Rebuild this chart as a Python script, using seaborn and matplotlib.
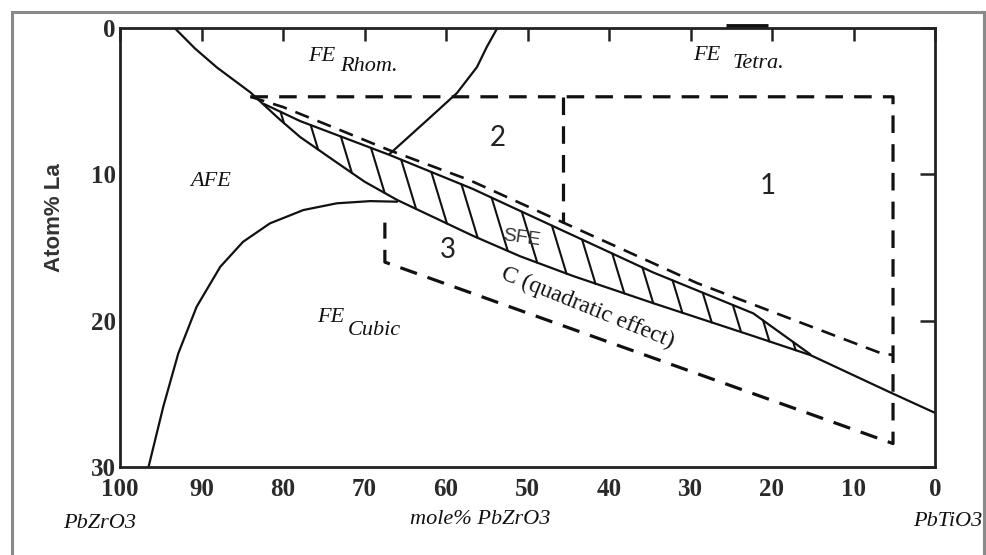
import numpy as np
import matplotlib
matplotlib.use("Agg")
import matplotlib.pyplot as plt
import seaborn as sns

# ---------------- data ----------------
# AFE / FE(Rhom) boundary continuing as lower edge of SFE band to PbTiO3
afe_x = [93.3, 90.8, 88.1, 84.0, 80.5, 77.9, 73.9, 70.0, 66.0, 56.7, 50.9, 44.4, 34.6, 22.3, 15.3, 5.5, 0.0]
afe_y = [0.0, 1.4, 2.7, 4.4, 6.2, 7.45, 9.0, 10.5, 11.75, 14.2, 15.6, 16.95, 18.8, 21.05, 22.35, 24.9, 26.3]
# upper edge of SFE (hatched) band
sfe_top_x = [82.3, 77.9, 66.9, 56.7, 50.9, 34.6, 22.3, 15.3]
sfe_top_y = [5.2, 6.36, 8.68, 11.0, 12.5, 16.7, 19.5, 22.3]
# FE Rhom / FE Tetra boundary
mpb_x = [53.7, 55.0, 56.2, 58.65, 62.3, 66.9]
mpb_y = [0.0, 1.3, 2.67, 4.44, 6.29, 8.6]
# AFE / FE Cubic boundary
cubic_x = [96.5, 94.7, 92.85, 90.6, 87.7, 84.9, 81.6, 77.5, 73.4, 69.3, 66.0]
cubic_y = [30.0, 25.9, 22.24, 19.05, 16.32, 14.61, 13.35, 12.44, 11.98, 11.83, 11.87]
# dashed region outlines
outer_x = [84.0, 5.15, 5.15, 67.5, 67.5]
outer_y = [4.7, 4.7, 28.4, 16.0, 13.3]
upper_dash_x = [84.0, 80.0, 73.9, 67.0, 57.1, 45.6, 29.2, 6.75, 5.15]
upper_dash_y = [4.7, 5.4, 6.77, 8.34, 10.4, 13.3, 17.43, 22.2, 22.35]
divider_x = [45.6, 45.6]
divider_y = [4.7, 13.3]
top_mark_x = [25.6, 20.5]
top_mark_y = [-0.12, -0.12]

x_ticks = [100, 90, 80, 70, 60, 50, 40, 30, 20, 10, 0]
y_ticks = [0, 10, 20, 30]

# ---------------- styling ----------------
sns.set_theme(style="white")
plt.rcParams["font.family"] = ["Liberation Serif", "DejaVu Serif"]

W, H = 986, 555
fig = plt.figure(figsize=(W / 100, H / 100), dpi=100)
ax = fig.add_axes([120 / W, 1 - 467 / H, (935 - 120) / W, (467 - 28) / H])
ax.set_xlim(100, 0)
ax.set_ylim(30, 0)

k = "#111111"
solid_lw = 1.6
dash_ls = (0, (5.5, 3.5))

def line(xs, ys, **kw):
    sns.lineplot(x=xs, y=ys, sort=False, estimator=None, ax=ax, color=k, **kw)

line(afe_x, afe_y, lw=solid_lw)
line(sfe_top_x, sfe_top_y, lw=solid_lw)
line(mpb_x, mpb_y, lw=solid_lw)
line(cubic_x, cubic_y, lw=solid_lw)
line(outer_x, outer_y, lw=2.3, linestyle=dash_ls)
line(upper_dash_x, upper_dash_y, lw=1.9, linestyle=dash_ls)
line(divider_x, divider_y, lw=2.3, linestyle=dash_ls)
ax.plot(top_mark_x, top_mark_y, color=k, lw=3.5, clip_on=False, solid_capstyle="butt")

# hatching of SFE band: steep "\" strokes between upper and lower edges
tx, ty = np.array(sfe_top_x)[::-1], np.array(sfe_top_y)[::-1]
lx, ly = np.array(afe_x)[::-1], np.array(afe_y)[::-1]
slope = 3.3 * 8.15 / 14.63
for x0 in np.arange(80.3, 16.0, -3.7):
    y0 = np.interp(x0, tx, ty)
    xs = np.linspace(x0, x0 - 10, 2000)
    yl = y0 + slope * (x0 - xs)
    hit = np.argmax(yl >= np.interp(xs, lx, ly))
    ax.plot([x0, xs[hit]], [y0, yl[hit]], color=k, lw=1.5, solid_capstyle="round")

# ---------------- axes ----------------
ax.set_xticks(x_ticks)
ax.set_xticklabels([str(v) for v in x_ticks])
ax.set_yticks(y_ticks)
ax.set_yticklabels([str(v) for v in y_ticks])
ax.tick_params(direction="in", length=14, width=1.8, color="#222222",
               top=True, right=True, labeltop=False, labelright=False,
               labelsize=18, labelcolor="#2a2a2a")
ax.tick_params(axis="x", pad=8)
ax.tick_params(axis="y", pad=3)
for lab in ax.get_xticklabels() + ax.get_yticklabels():
    lab.set_fontweight("bold")
for t in ax.xaxis.get_major_ticks():
    t.tick2line.set_markersize(9)
for t in ax.yaxis.get_major_ticks():
    t.tick2line.set_markersize(11)
for s in ax.spines.values():
    s.set_linewidth(2.0)
    s.set_color("#222222")
ax.set_xlabel("")
ax.set_ylabel("")

# ---------------- annotations ----------------
it = dict(fontstyle="italic", fontsize=16, color=k, va="center", ha="left")
ax.text(76.9, 1.95, "FE", **it)
ax.text(73.0, 2.65, "Rhom.", **it)
ax.text(29.7, 1.85, "FE", **it)
ax.text(24.9, 2.45, "Tetra.", **it)
ax.text(91.4, 10.5, "AFE", **it)
ax.text(75.8, 19.8, "FE", **it)
ax.text(72.0, 20.7, "Cubic", **it)

num = dict(fontsize=20, color="#222222", ha="center", va="center", family=["Lato", "DejaVu Sans"])
ax.text(20.5, 10.8, "1", **num)
ax.text(53.7, 7.5, "2", **num)
ax.text(59.8, 15.2, "3", **num)
ax.text(50.7, 14.35, "SFE", fontsize=14, color="#333333", ha="center", va="center",
        rotation=-8, family=["Liberation Sans", "DejaVu Sans"])
ax.text(42.6, 19.1, "C (quadratic effect)", fontsize=17, color=k, ha="center", va="center",
        rotation=-22, rotation_mode="anchor")

fs = dict(fontstyle="italic", fontsize=16, color=k, va="center")
fig.text(63 / W, 1 - 523 / H, "PbZrO3", ha="left", **fs)
fig.text(480 / W, 1 - 520 / H, "mole% PbZrO3", ha="center", **fs)
fig.text(913 / W, 1 - 521 / H, "PbTiO3", ha="left", **fs)
fig.text(55 / W, 1 - 218 / H, "Atom% La", rotation=90, ha="center", va="center",
         fontsize=16, fontweight="bold", color="#333333", family=["Liberation Sans", "DejaVu Sans"])

# outer screenshot frame
fig.add_artist(plt.Rectangle((12 / W, -0.05), (984 - 12) / W, 1.05 - 12 / H,
                             transform=fig.transFigure, fill=False,
                             edgecolor="#8a8a8a", lw=2.2))

fig.savefig("out.png", dpi=100, facecolor="white")
